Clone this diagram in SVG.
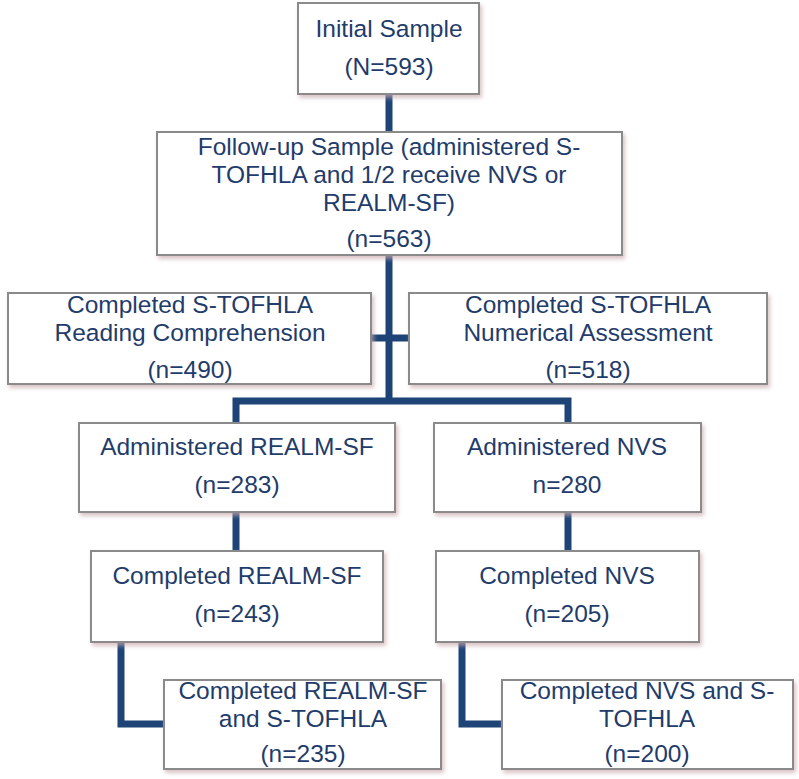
<svg xmlns="http://www.w3.org/2000/svg" width="799" height="779" viewBox="0 0 799 779">
  <defs>
    <filter id="sh" x="-5%" y="-5%" width="112%" height="115%">
      <feDropShadow dx="2" dy="3" stdDeviation="2" flood-color="#c9a9ad" flood-opacity="0.7"/>
    </filter>
    <style>
      .box { fill: #ffffff; stroke: #8a8a8a; stroke-width: 2; filter: url(#sh); }
      .t { font-family: "Liberation Sans", Arial, sans-serif; font-size: 24.5px; fill: #1f3c6b; text-anchor: middle; }
      .c { fill: none; stroke: #1d4377; stroke-width: 7; stroke-linejoin: miter; stroke-linecap: butt; }
    </style>
  </defs>
  <rect width="799" height="779" fill="#ffffff"/>

  <g id="connectors">
    <path class="c" d="M389 94 V132"/>
    <path class="c" d="M389 255 V404"/>
    <path class="c" d="M371 338 H409"/>
    <path class="c" d="M236 423 V401 H568 V423"/>
    <path class="c" d="M236 512 V551"/>
    <path class="c" d="M568 512 V551"/>
    <path class="c" d="M121 642 V724 H164"/>
    <path class="c" d="M462 642 V724 H502"/>
  </g>

  <g id="initial">
    <rect class="box" x="298" y="3" width="181" height="91"/>
    <text class="t" x="389" y="37">Initial Sample</text>
    <text class="t" x="389" y="75">(N=593)</text>
  </g>

  <g id="followup">
    <rect class="box" x="157" y="132" width="465" height="123"/>
    <text class="t" x="389" y="155">Follow-up Sample (administered S-</text>
    <text class="t" x="389" y="183">TOFHLA and 1/2 receive NVS or</text>
    <text class="t" x="389" y="211">REALM-SF)</text>
    <text class="t" x="389" y="247">(n=563)</text>
  </g>

  <g id="reading">
    <rect class="box" x="8" y="293" width="363" height="91"/>
    <text class="t" x="190" y="313">Completed S-TOFHLA</text>
    <text class="t" x="190" y="341">Reading Comprehension</text>
    <text class="t" x="190" y="378">(n=490)</text>
  </g>

  <g id="numerical">
    <rect class="box" x="409" y="293" width="358" height="91"/>
    <text class="t" x="588" y="313">Completed S-TOFHLA</text>
    <text class="t" x="588" y="341">Numerical Assessment</text>
    <text class="t" x="588" y="378">(n=518)</text>
  </g>

  <g id="adm-realm">
    <rect class="box" x="79" y="423" width="316" height="89"/>
    <text class="t" x="237" y="455">Administered REALM-SF</text>
    <text class="t" x="237" y="493">(n=283)</text>
  </g>

  <g id="adm-nvs">
    <rect class="box" x="434" y="423" width="267" height="89"/>
    <text class="t" x="567" y="455">Administered NVS</text>
    <text class="t" x="567" y="493">n=280</text>
  </g>

  <g id="comp-realm">
    <rect class="box" x="91" y="551" width="292" height="91"/>
    <text class="t" x="237" y="584">Completed REALM-SF</text>
    <text class="t" x="237" y="622">(n=243)</text>
  </g>

  <g id="comp-nvs">
    <rect class="box" x="436" y="551" width="263" height="91"/>
    <text class="t" x="567" y="584">Completed NVS</text>
    <text class="t" x="567" y="622">(n=205)</text>
  </g>

  <g id="both-realm">
    <rect class="box" x="164" y="680" width="277" height="89"/>
    <text class="t" x="303" y="699">Completed REALM-SF</text>
    <text class="t" x="303" y="727">and S-TOFHLA</text>
    <text class="t" x="303" y="762">(n=235)</text>
  </g>

  <g id="both-nvs">
    <rect class="box" x="502" y="680" width="291" height="89"/>
    <text class="t" x="647" y="699">Completed NVS and S-</text>
    <text class="t" x="647" y="727">TOFHLA</text>
    <text class="t" x="647" y="762">(n=200)</text>
  </g>
</svg>
